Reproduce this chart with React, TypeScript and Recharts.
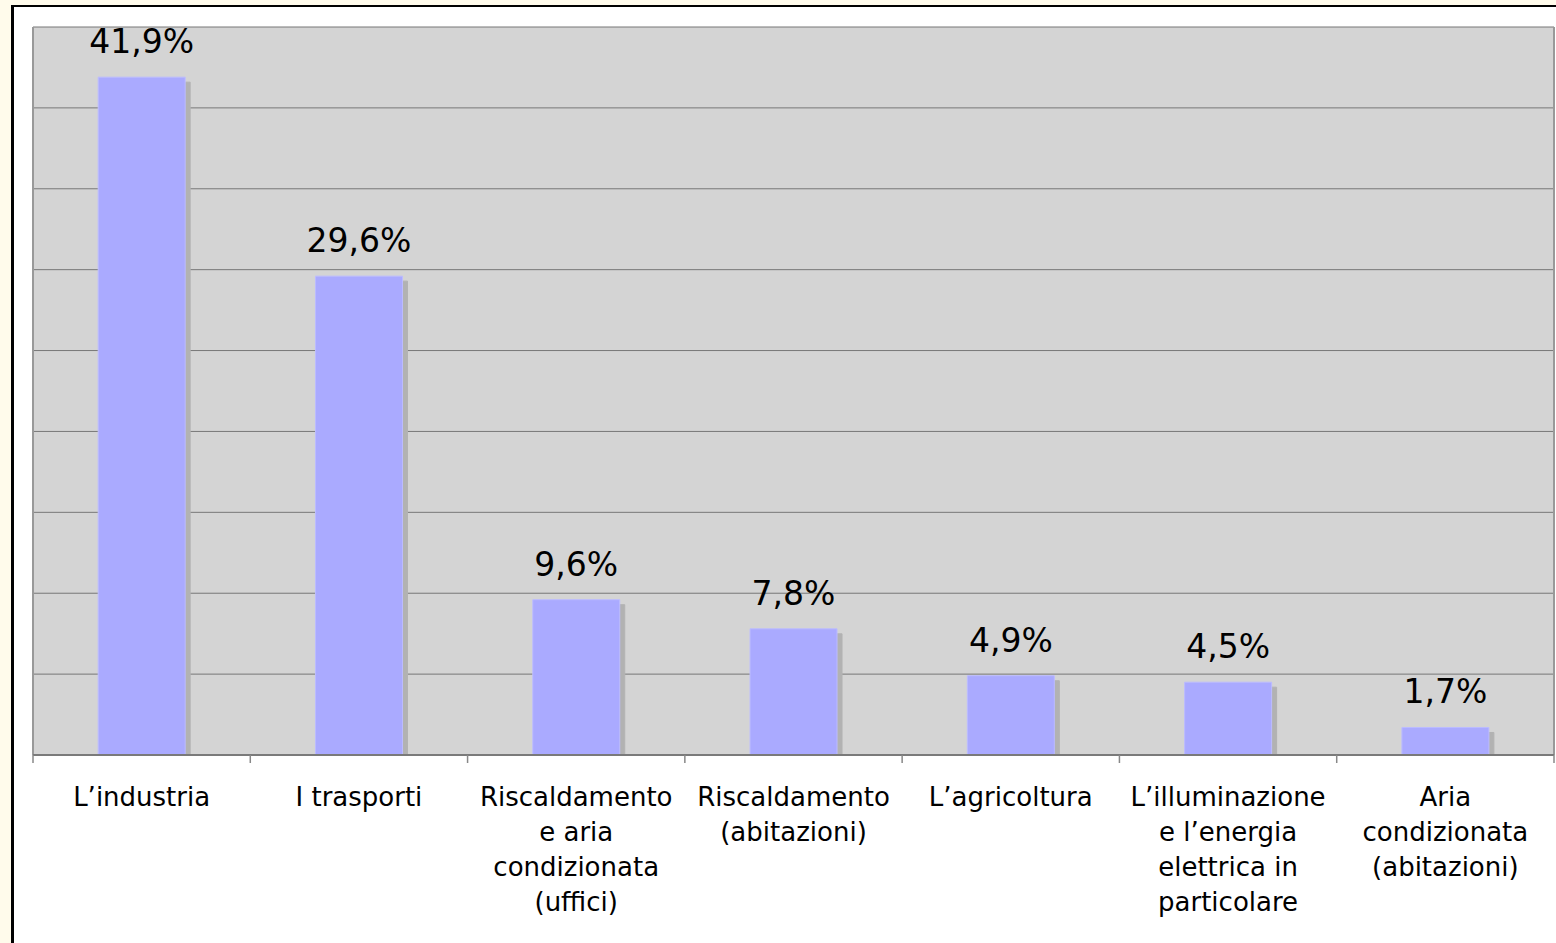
import React from "react";
import { BarChart, Bar, XAxis, YAxis, CartesianGrid, LabelList } from "recharts";

const categories = [
  "L’industria",
  "I trasporti",
  "Riscaldamento e aria condizionata (uffici)",
  "Riscaldamento (abitazioni)",
  "L’agricoltura",
  "L’illuminazione e l’energia elettrica in particolare",
  "Aria condizionata (abitazioni)",
];

const labelLines: string[][] = [
  ["L’industria"],
  ["I trasporti"],
  ["Riscaldamento", "e aria", "condizionata", "(uffici)"],
  ["Riscaldamento", "(abitazioni)"],
  ["L’agricoltura"],
  ["L’illuminazione", "e l’energia", "elettrica in", "particolare"],
  ["Aria", "condizionata", "(abitazioni)"],
];

const values = [41.9, 29.6, 9.6, 7.8, 4.9, 4.5, 1.7];

const yTicks = [0, 5, 10, 15, 20, 25, 30, 35, 40, 45];

const data = categories.map((c, i) => ({ name: c, value: values[i] }));

const FONT = "'DejaVu Sans', Verdana, sans-serif";

const ValueLabel = (props: any) => {
  const { x, y, width, value } = props;
  const txt = Number(value).toFixed(1).replace(".", ",") + "%";
  return (
    <text x={Number(x) + Number(width) / 2} y={Number(y) - 24} textAnchor="middle" fontSize={33} fontFamily={FONT} fill="#000">
      {txt}
    </text>
  );
};

const CatTick = (props: any) => {
  const { x, y, payload, index } = props;
  const half = payload && payload.offset ? payload.offset : 108.7;
  const lines = labelLines[index] || [String(payload.value)];
  return (
    <g>
      <line x1={x - half} y1={y} x2={x - half} y2={y + 8} stroke="#888" strokeWidth={1.5} />
      {index === labelLines.length - 1 && (
        <line x1={x + half} y1={y} x2={x + half} y2={y + 8} stroke="#888" strokeWidth={1.5} />
      )}
      {lines.map((l, i) => (
        <text key={i} x={x} y={y + 51 + i * 35} textAnchor="middle" fontSize={26} fontFamily={FONT} fill="#000">
          {l}
        </text>
      ))}
    </g>
  );
};

const edgeVerticals = (p: any) => {
  const o = p && p.offset ? p.offset : { left: 33, width: 1521 };
  return [o.left, o.left + o.width];
};

const css = `
.shadow-bars .recharts-bar-rectangle path,
.shadow-bars .recharts-rectangle {
  filter: drop-shadow(5px 5px 0 #b2b2b2);
  clip-path: inset(-10px -10px 0px -10px);
}
`;

export default function App() {
  return (
    <div style={{ position: "fixed", left: 0, top: 0, width: 1556, height: 943, background: "#fffbeb", overflow: "hidden" }}>
      <style>{css}</style>
      <div
        style={{
          position: "absolute",
          left: 11,
          top: 5,
          width: 2000,
          height: 2000,
          background: "#fff",
          borderLeft: "3px solid #000",
          borderTop: "2.5px solid #000",
        }}
      />
      <div style={{ position: "absolute", left: 0, top: 0 }}>
        <BarChart
          width={1556}
          height={943}
          data={data}
          margin={{ top: 27, right: 2, left: 33, bottom: 0 }}
          barCategoryGap="30%"
        >
          <CartesianGrid vertical={false} horizontal={true} stroke="#777" strokeWidth={1} fill="#d4d4d4" fillOpacity={1} />
          <CartesianGrid horizontal={false} vertical={true} stroke="#999" strokeWidth={2} verticalCoordinatesGenerator={edgeVerticals} />
          <YAxis hide domain={[0, 45]} ticks={yTicks} type="number" />
          <XAxis
            dataKey="name"
            height={188}
            interval={0}
            tickLine={false}
            tickSize={0}
            tickMargin={0}
            axisLine={{ stroke: "#7a7a7a", strokeWidth: 2 }}
            tick={<CatTick />}
          />
          <Bar
            dataKey="value"
            isAnimationActive={false}
            fill="#aaaaff"
            stroke="#bcbcff"
            strokeWidth={1}
            className="shadow-bars"
          >
            <LabelList dataKey="value" content={<ValueLabel />} />
          </Bar>
        </BarChart>
      </div>
    </div>
  );
}
